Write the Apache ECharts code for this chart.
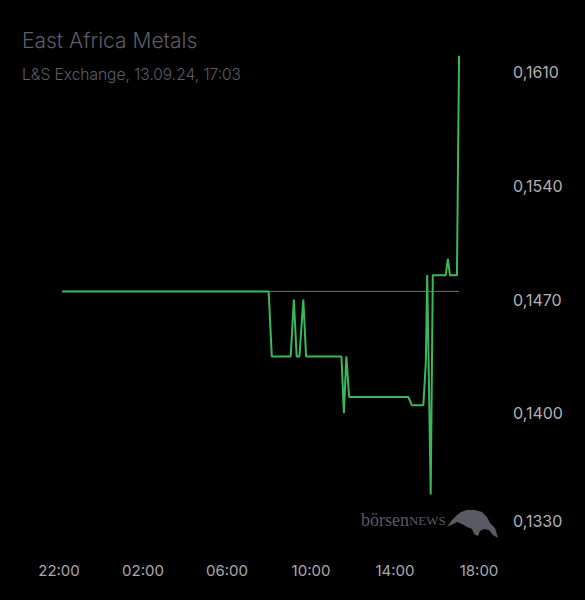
<!DOCTYPE html>
<html>
<head>
<meta charset="utf-8">
<style>
  html, body { margin: 0; padding: 0; background: #000; }
  #chart { width: 585px; height: 600px; }
</style>
<script src="https://cdn.jsdelivr.net/npm/echarts@6/dist/echarts.min.js"></script>
</head>
<body>
<div id="chart"></div>
<script>
// ---- data ----
const chartTitle = "East Africa Metals";
const chartSubtitle = "L&S Exchange, 13.09.24, 17:03";
const times = ["22:09","07:59","08:08","09:02","09:11","09:19","09:27","09:38","09:46",
               "11:27","11:34","11:41","11:49","14:38","14:48","15:21","15:28","15:32",
               "15:42","15:48","16:25","16:31","16:37","16:57","17:03"];
const prices = [0.1475,0.1475,0.1435,0.1435,0.1470,0.1435,0.1435,0.1470,0.1435,
                0.1435,0.1400,0.1435,0.1410,0.1410,0.1405,0.1405,0.1431,0.1485,
                0.1350,0.1485,0.1485,0.1495,0.1485,0.1485,0.1620];
const previousClose = 0.1475;
const xTickLabels = ["22:00","02:00","06:00","10:00","14:00","18:00"];
const yTickValues = [0.1330, 0.1400, 0.1470, 0.1540, 0.1610];

// hours since 22:00 of the previous day
function toHours(t) {
  const [h, m] = t.split(":").map(Number);
  let v = h + m / 60 - 22;
  if (v < 0) v += 24;
  return v;
}
const seriesData = times.map((t, i) => [toHours(t), prices[i]]);
const refData = [[toHours(times[0]), previousClose], [toHours(times[times.length - 1]), previousClose]];

const chart = echarts.init(document.getElementById('chart'), null, { renderer: 'svg' });
const labelColor = '#a9a9a9';
const titleColor = '#5d5d68';
const markColor = '#5a5a64';

chart.setOption({
  backgroundColor: '#000000',
  animation: false,
  grid: { left: 59, right: 106, top: 72, bottom: 73, containLabel: false },
  xAxis: {
    type: 'value',
    min: 0, max: 20, interval: 4,
    axisLine: { show: false }, axisTick: { show: false }, splitLine: { show: false },
    axisLabel: {
      color: labelColor, fontFamily: 'Inter', fontSize: 15, margin: 36,
      formatter: function (v) { return xTickLabels[Math.round(v / 4)] || ''; }
    }
  },
  yAxis: {
    type: 'value', position: 'right',
    min: yTickValues[0], max: yTickValues[yTickValues.length - 1], interval: 0.007,
    axisLine: { show: false }, axisTick: { show: false }, splitLine: { show: false },
    axisLabel: {
      color: '#b0b0b0', fontFamily: 'Inter', fontSize: 16, margin: 34,
      formatter: function (v) {
        const s = v.toFixed(4).replace('.', ',');
        if (Math.abs(v - yTickValues[0]) < 1e-6) return '{lo|' + s + '}';
        return s;
      },
      rich: { lo: { color: '#b0b0b0', fontFamily: 'Inter', fontSize: 16, padding: [0, 0, 12, 0] } }
    }
  },
  series: [
    {
      type: 'line', data: refData, showSymbol: false, silent: true,
      lineStyle: { color: '#707070', width: 1 }, z: 1
    },
    {
      type: 'line', data: seriesData, showSymbol: false, clip: false,
      lineStyle: { color: '#3cb65b', width: 2 }, z: 2
    }
  ],
  graphic: [
    { type: 'text', left: 22, top: 30, style: { text: chartTitle, fill: titleColor, font: '300 21px Inter' } },
    { type: 'text', left: 22, top: 66, style: { text: chartSubtitle, fill: titleColor, font: '300 15.5px Inter' } },
    { type: 'text', left: 361, top: 511, style: {
        text: '{a|börsen}{b|NEWS}',
        rich: {
          a: { fill: markColor, font: '18px "Liberation Serif"' },
          b: { fill: markColor, font: '13px "Liberation Serif"' }
        }
    } },
    { type: 'polygon', shape: { points: [
        [447,527],[452,520],[457,515],[461,512],[467,510],[475,510],[482,512],[487,517],
        [490,523],[495,528],[498,538],[493,535],[489,530],[484,529],[480,531],[478,536],
        [474,534],[472,529],[467,527],[462,524],[457,522],[451,525]] },
      style: { fill: markColor } }
  ]
});
</script>
</body>
</html>
